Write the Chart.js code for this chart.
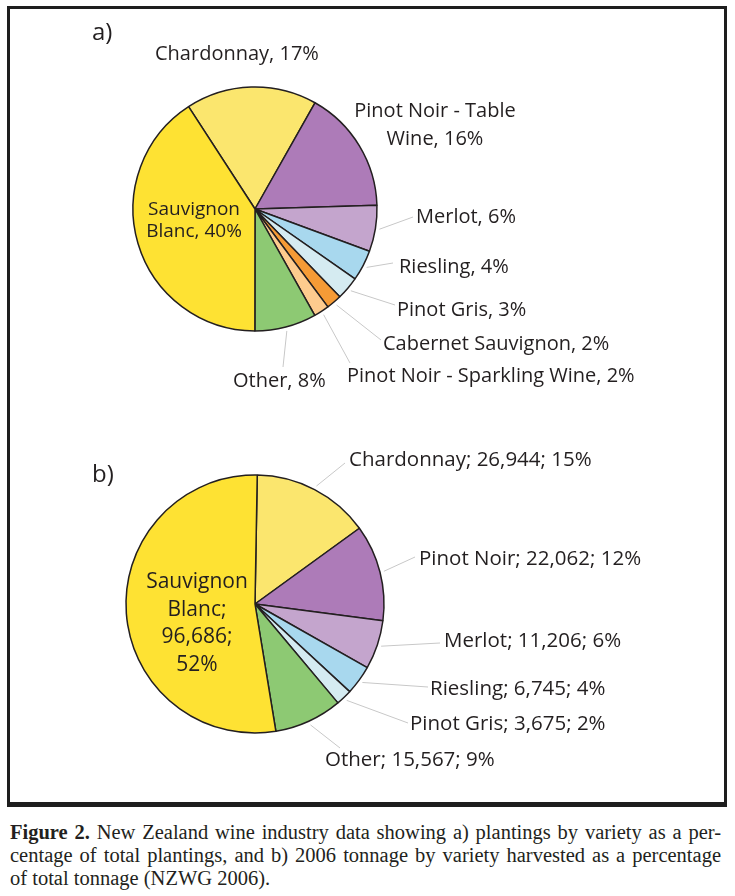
<!DOCTYPE html>
<html>
<head>
<meta charset="utf-8">
<script src="https://cdn.jsdelivr.net/npm/chart.js@4.4.1/dist/chart.umd.min.js"></script>
<style>
    body { margin: 0; background: #fff; }
    #page { position: relative; width: 735px; height: 896px; overflow: hidden; background: #fff; }
    #frame { position: absolute; left: 7px; top: 6px; width: 714px; height: 793px; border: 3px solid #1e1e1e; border-bottom-width: 5px; }
    canvas { position: absolute; left: 0; }
    #chartA { top: 0; }
    #chartB { top: 400px; }
    #caption { position: absolute; left: 10px; top: 821px; width: 711px; font-family: "Liberation Serif", serif; font-size: 20.5px; line-height: 23px; color: #231f20; }
    #caption div { text-align: justify; text-align-last: justify; white-space: nowrap; }
    #caption div.last { text-align-last: left; }
</style>
</head>
<body>
<div id="page">
    <div id="frame"></div>
    <canvas id="chartA" width="735" height="420"></canvas>
    <canvas id="chartB" width="735" height="400"></canvas>
    <div id="caption">
        <div><b>Figure 2.</b> New Zealand wine industry data showing a) plantings by variety as a per-</div>
        <div>centage of total plantings, and b) 2006 tonnage by variety harvested as a percentage</div>
        <div class="last">of total tonnage (NZWG 2006).</div>
    </div>
</div>
<script>
// a) plantings by variety, % of total plantings
const plantVarieties = ['Chardonnay', 'Pinot Noir - Table Wine', 'Merlot', 'Riesling', 'Pinot Gris',
    'Cabernet Sauvignon', 'Pinot Noir - Sparkling Wine', 'Other', 'Sauvignon Blanc'];
const plantShares = [17, 16, 6, 4, 3, 2, 2, 8, 40];
const plantColors = ['#FBE66E', '#AD7BB8', '#C4A5CD', '#A8D8EE', '#D5EBF1', '#F59B36', '#FDCB8E', '#8DC973', '#FEE233'];

// b) 2006 tonnage by variety
const tonVarieties = ['Chardonnay', 'Pinot Noir', 'Merlot', 'Riesling', 'Pinot Gris', 'Other', 'Sauvignon Blanc'];
const tonValues = [26944, 22062, 11206, 6745, 3675, 15567, 96686];
const tonShares = [15, 12, 6, 4, 2, 9, 52];
const tonColors = ['#FBE66E', '#AD7BB8', '#C4A5CD', '#A8D8EE', '#D5EBF1', '#8DC973', '#FEE233'];

const textColor = '#231f20';
const leaderColor = '#c8c8c8';

const plantText = plantVarieties.map((v, i) => `${v}, ${plantShares[i]}%`);
const tonText = tonVarieties.map((v, i) => `${v}; ${tonValues[i].toLocaleString('en-US')}; ${tonShares[i]}%`);

// draws the slice labels + thin grey leader lines
const sliceLabels = {
    id: 'sliceLabels',
    afterDatasetsDraw(chart, args, opts) {
        const ctx = chart.ctx;
        const arcs = chart.getDatasetMeta(0).data;
        ctx.save();

        // panel letter
        ctx.fillStyle = textColor;
        ctx.font = '24px "Open Sans"';
        ctx.textAlign = 'left';
        ctx.textBaseline = 'alphabetic';
        ctx.fillText(opts.panel.text, opts.panel.x, opts.panel.y);

        opts.items.forEach((item, i) => {
            const arc = arcs[i];
            if (item.leader) {
                const mid = (arc.startAngle + arc.endAngle) / 2;
                const r = arc.outerRadius + 4;
                ctx.strokeStyle = leaderColor;
                ctx.lineWidth = 1;
                ctx.beginPath();
                ctx.moveTo(arc.x + Math.cos(mid) * r, arc.y + Math.sin(mid) * r);
                ctx.lineTo(item.leader[0], item.leader[1]);
                ctx.stroke();
            }
            const words = opts.texts[i].split(' ');
            const lines = [];
            if (item.wrap) {
                let k = 0;
                item.wrap.forEach(n => { lines.push(words.slice(k, k + n).join(' ')); k += n; });
            } else {
                lines.push(opts.texts[i]);
            }
            ctx.fillStyle = textColor;
            ctx.font = (item.size || opts.size) + 'px "Open Sans"';
            ctx.textAlign = item.align || 'left';
            lines.forEach((line, j) => ctx.fillText(line, item.x, item.y + j * (item.lh || 0)));
        });
        ctx.restore();
    }
};

const offB = 400; // top of canvas b on the page

new Chart(document.getElementById('chartA'), {
    type: 'pie',
    data: {
        labels: plantVarieties,
        datasets: [{
            data: plantShares,
            backgroundColor: plantColors,
            borderColor: textColor,
            borderWidth: 1.5
        }]
    },
    options: {
        responsive: false,
        animation: false,
        rotation: -33,
        radius: 122,
        layout: { padding: { left: 125, top: 79, right: 350, bottom: 81 } },
        plugins: {
            legend: { display: false },
            tooltip: { enabled: false },
            sliceLabels: {
                panel: { text: 'a)', x: 92, y: 40 },
                size: 20,
                texts: plantText,
                items: [
                    { x: 155, y: 60 },
                    { x: 435, y: 117, align: 'center', wrap: [4, 2], lh: 28 },
                    { x: 416, y: 223, leader: [413, 217] },
                    { x: 399, y: 273, leader: [393, 263] },
                    { x: 397, y: 316, leader: [395, 305] },
                    { x: 383, y: 350, leader: [381, 340] },
                    { x: 347, y: 382, leader: [350, 363] },
                    { x: 233, y: 387, leader: [283, 367] },
                    { x: 194, y: 215, align: 'center', wrap: [1, 2], lh: 22, size: 19 }
                ]
            }
        }
    },
    plugins: [sliceLabels]
});

new Chart(document.getElementById('chartB'), {
    type: 'pie',
    data: {
        labels: tonVarieties,
        datasets: [{
            data: tonValues,
            backgroundColor: tonColors,
            borderColor: textColor,
            borderWidth: 1.5
        }]
    },
    options: {
        responsive: false,
        animation: false,
        rotation: 1,
        radius: 129,
        layout: { padding: { left: 125, top: 74, right: 350, bottom: 66 } },
        plugins: {
            legend: { display: false },
            tooltip: { enabled: false },
            sliceLabels: {
                panel: { text: 'b)', x: 92, y: 482 - offB },
                size: 20.5,
                texts: tonText,
                items: [
                    { x: 349, y: 466 - offB, leader: [345, 463 - offB] },
                    { x: 419, y: 565 - offB, leader: [415, 557 - offB] },
                    { x: 444, y: 647 - offB, leader: [440, 643 - offB] },
                    { x: 430, y: 695 - offB, leader: [428, 687 - offB] },
                    { x: 410, y: 730 - offB, leader: [408, 723 - offB] },
                    { x: 325, y: 766 - offB, leader: [340, 748 - offB] },
                    { x: 197, y: 588 - offB, align: 'center', wrap: [1, 1, 1, 1], lh: 27.5, size: 21 }
                ]
            }
        }
    },
    plugins: [sliceLabels]
});
</script>
</body>
</html>
